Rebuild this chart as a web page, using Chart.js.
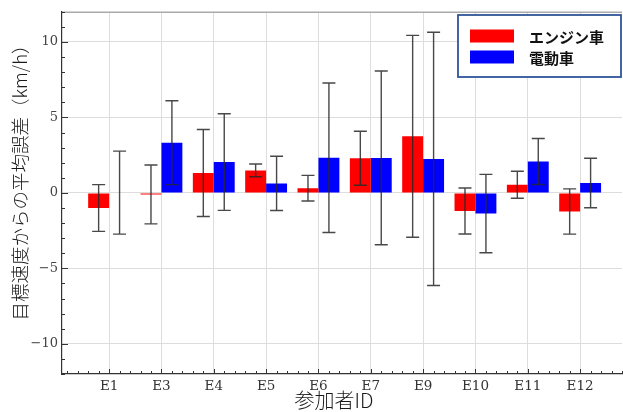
<!DOCTYPE html>
<html>
<head>
<meta charset="utf-8">
<script src="https://cdn.jsdelivr.net/npm/chart.js@4.4.1/dist/chart.umd.min.js"></script>
<style>
  html, body { margin: 0; padding: 0; background: #fff; }
</style>
</head>
<body>
<canvas id="myChart" width="623" height="412"></canvas>
<script>
// 参加者ごとの平均誤差と標準偏差
const participants = ['E1', 'E3', 'E4', 'E5', 'E6', 'E7', 'E9', 'E10', 'E11', 'E12'];
const engineMean = [-1.0, -0.1, 1.32, 1.49, 0.31, 2.3, 3.75, -1.2, 0.54, -1.23];
const engineErr  = [1.55, 1.95, 2.88, 0.42, 0.85, 1.79, 6.69, 1.52, 0.89, 1.5];
const evMean = [0.02, 3.33, 2.04, 0.63, 2.33, 2.32, 2.25, -1.37, 2.08, 0.66];
const evErr  = [2.75, 2.78, 3.2, 1.8, 4.95, 5.76, 8.39, 2.6, 1.52, 1.64];
const yTicks = [-10, -5, 0, 5, 10];

const seriesLabels = ['エンジン車', '電動車'];
const seriesColors = ['#ff0000', '#0000ff'];
const seriesErr = [engineErr, evErr];
const xTitle = '参加者ID';
const yTitle = '目標速度からの平均誤差（km/h）';

const toPoints = arr => arr.map((v, i) => ({ x: i, y: v }));

// エラーバー
const errorBars = {
    id: 'errorBars',
    afterDatasetsDraw(chart) {
        const ctx = chart.ctx;
        const y = chart.scales.y;
        ctx.save();
        ctx.strokeStyle = 'rgba(40,40,40,0.85)';
        ctx.lineWidth = 1.4;
        chart.data.datasets.forEach((ds, d) => {
            const meta = chart.getDatasetMeta(d);
            meta.data.forEach((bar, i) => {
                const m = ds.data[i].y;
                const e = seriesErr[d][i];
                const top = y.getPixelForValue(m + e);
                const bot = y.getPixelForValue(m - e);
                ctx.beginPath();
                ctx.moveTo(bar.x, top); ctx.lineTo(bar.x, bot);
                ctx.moveTo(bar.x - 6.5, top); ctx.lineTo(bar.x + 6.5, top);
                ctx.moveTo(bar.x - 6.5, bot); ctx.lineTo(bar.x + 6.5, bot);
                ctx.stroke();
            });
        });
        ctx.restore();
    }
};

// 内向きの目盛り、上枠、軸タイトル
const innerTicks = {
    id: 'innerTicks',
    afterDraw(chart) {
        const ctx = chart.ctx;
        const a = chart.chartArea;
        const x = chart.scales.x, y = chart.scales.y;
        ctx.save();
        ctx.strokeStyle = '#aaaaaa';
        ctx.lineWidth = 1.5;
        ctx.beginPath();
        ctx.moveTo(a.left, a.top + 0.5); ctx.lineTo(a.right, a.top + 0.5);
        ctx.stroke();
        ctx.strokeStyle = '#333333';
        ctx.lineWidth = 1;
        ctx.beginPath();
        for (let k = Math.ceil(x.min * 5); k <= Math.floor(x.max * 5); k++) {
            const px = Math.round(x.getPixelForValue(k / 5)) + 0.5;
            const len = (k % 5 === 0) ? 5 : 3;
            ctx.moveTo(px, a.bottom); ctx.lineTo(px, a.bottom - len);
        }
        for (let v = Math.ceil(y.min); v <= Math.floor(y.max); v++) {
            const py = Math.round(y.getPixelForValue(v)) + 0.5;
            const len = (v % 5 === 0) ? 6 : 3;
            ctx.moveTo(a.left, py); ctx.lineTo(a.left + len, py);
        }
        ctx.stroke();

        ctx.fillStyle = '#1a1a1a';
        ctx.textAlign = 'center';
        ctx.textBaseline = 'middle';
        ctx.font = '300 20px "Noto Sans CJK JP"';
        ctx.fillText(xTitle, 334, 400);
        ctx.font = '300 18.5px "Noto Sans CJK JP"';
        ctx.translate(20, 178);
        ctx.rotate(-Math.PI / 2);
        ctx.fillText(yTitle, 0, 0);
        ctx.restore();
    }
};

// 凡例（右上の枠）
const boxLegend = {
    id: 'boxLegend',
    afterDraw(chart) {
        const ctx = chart.ctx;
        ctx.save();
        ctx.fillStyle = '#ffffff';
        ctx.fillRect(458, 15, 163, 62);
        ctx.strokeStyle = '#2f5597';
        ctx.lineWidth = 1.8;
        ctx.strokeRect(458, 15, 163, 62);
        ctx.font = 'bold 15px "Noto Sans CJK JP"';
        ctx.textBaseline = 'middle';
        chart.data.datasets.forEach((ds, d) => {
            const cy = 36 + d * 21;
            ctx.fillStyle = ds.backgroundColor;
            ctx.fillRect(470, cy - 6.5, 44, 13);
            ctx.fillStyle = '#111111';
            ctx.fillText(ds.label, 529, cy + 1);
        });
        ctx.restore();
    }
};

const ctx = document.getElementById('myChart').getContext('2d');
const chart = new Chart(ctx, {
    type: 'bar',
    data: {
        datasets: [0, 1].map(d => ({
            label: seriesLabels[d],
            data: toPoints(d === 0 ? engineMean : evMean),
            backgroundColor: seriesColors[d],
            borderWidth: 0,
            categoryPercentage: 0.8,
            barPercentage: 1.0
        }))
    },
    options: {
        responsive: false,
        animation: false,
        devicePixelRatio: 1,
        layout: { padding: { top: 9, right: 1, left: 0, bottom: 0 } },
        plugins: { legend: { display: false }, tooltip: { enabled: false } },
        scales: {
            x: {
                type: 'linear',
                min: -0.9,
                max: 9.8,
                offset: false,
                afterBuildTicks: s => { s.ticks = participants.map((p, i) => ({ value: i })); },
                afterFit: s => { s.height = 38; },
                ticks: {
                    callback: v => participants[v],
                    font: { family: '"DejaVu Serif"', size: 13.5 },
                    color: '#333333',
                    padding: 4,
                    maxRotation: 0
                },
                grid: { color: '#dddddd', drawTicks: false, offset: false },
                border: { color: '#333333', width: 1.2 }
            },
            y: {
                min: -12,
                max: 12,
                afterBuildTicks: s => { s.ticks = yTicks.map(v => ({ value: v })); },
                afterFit: s => { s.width = 62; },
                ticks: {
                    callback: v => v < 0 ? '\u2212' + Math.abs(v) : String(v),
                    font: { family: '"DejaVu Serif"', size: 13 },
                    color: '#444444',
                    padding: 4
                },
                grid: { color: '#dddddd', drawTicks: false },
                border: { color: '#333333', width: 1.2 }
            }
        }
    },
    plugins: [errorBars, innerTicks, boxLegend]
});
</script>
</body>
</html>
